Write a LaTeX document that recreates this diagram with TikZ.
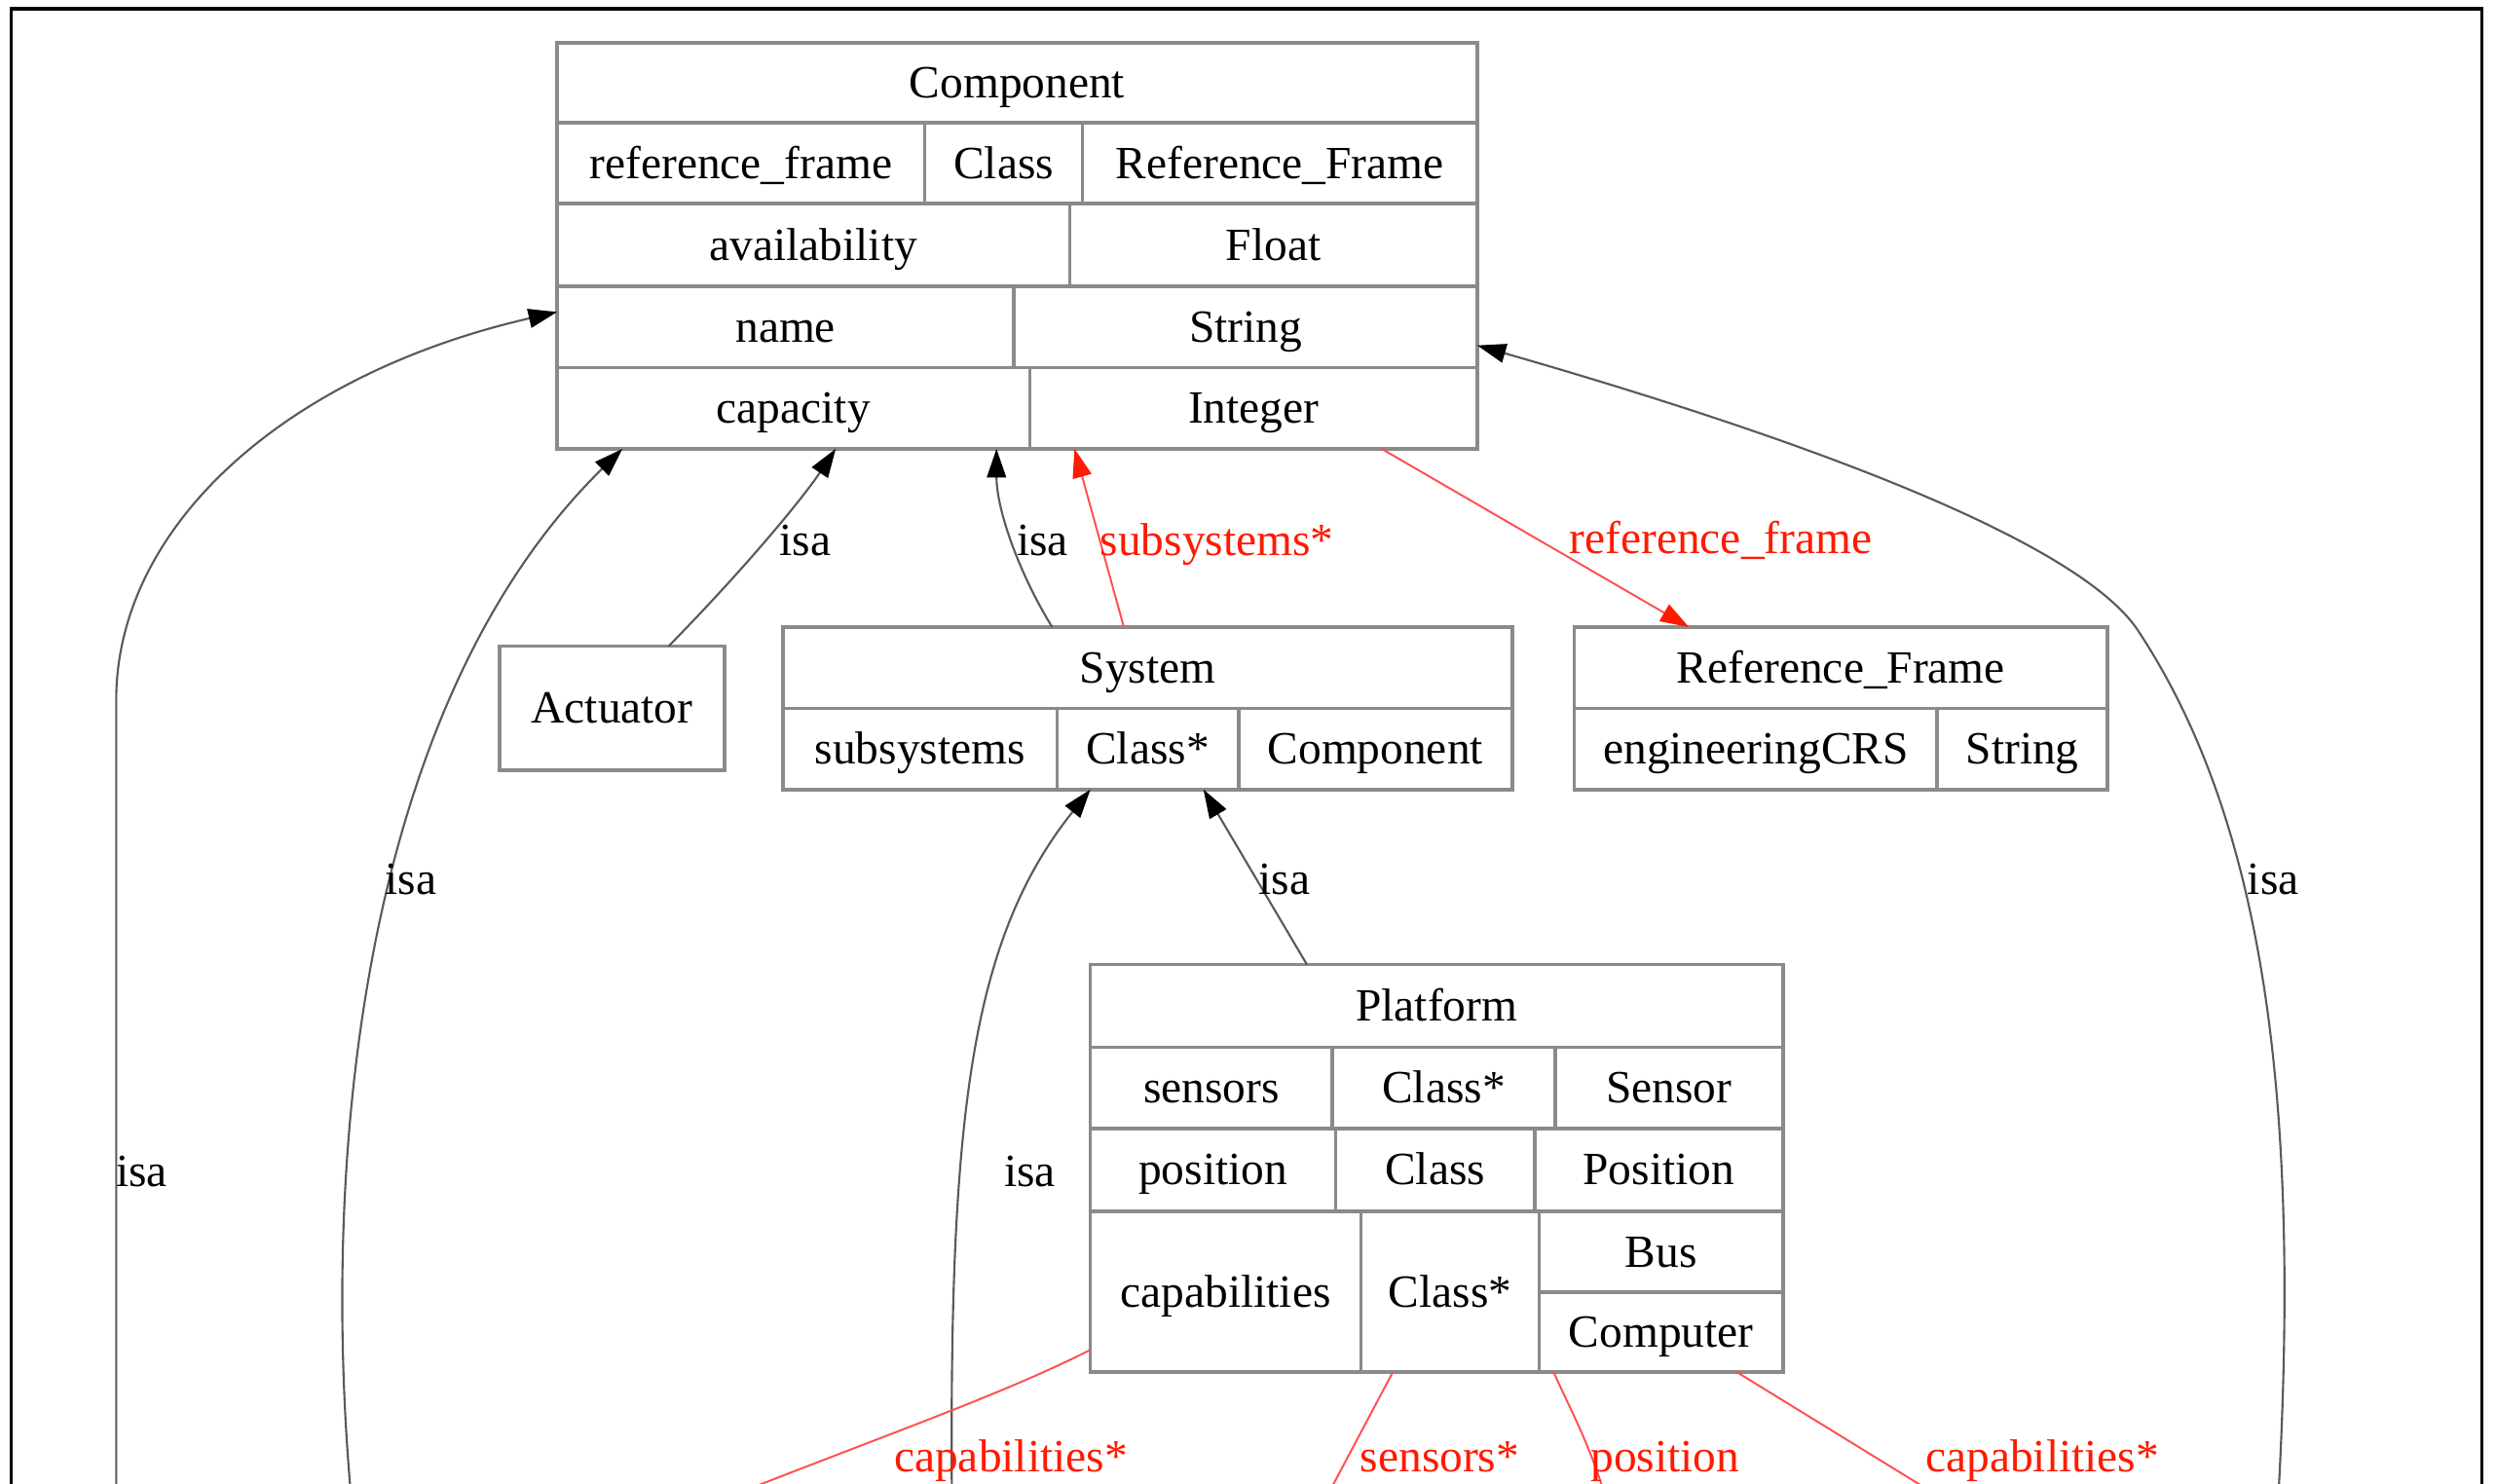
\documentclass[tikz,border=0pt]{standalone}
\usepackage{fontspec}
\setmainfont{Liberation Serif}
\usetikzlibrary{arrows.meta}
\definecolor{tblgray}{HTML}{8A8A8A}
\definecolor{edgegray}{HTML}{5A5A5A}
\definecolor{edgered}{HTML}{FF5050}
\definecolor{lblred}{HTML}{FF1A00}
\newcommand\tcell[6]{\node[cell,minimum width={#4-#2},minimum height={#5-#3}] (#1) at ({(#2+#4)/2},{(#3+#5)/2}) {#6};}
\begin{document}
\begin{tikzpicture}[x=1pt,y=-1pt,
  cell/.style={draw=tblgray, line width=2.2pt, inner sep=0pt, outer sep=0pt,
    text height=19pt, text depth=0pt, font=\fontsize{29}{34}\selectfont},
  tbl/.style={draw=none, inner sep=0pt, outer sep=0pt},
  isaedge/.style={draw=edgegray, line width=1.3pt, -{Triangle[length=18pt,width=12pt,color=black]}},
  rededge/.style={draw=edgered, line width=1.2pt, -{Triangle[length=18pt,width=12pt,color=lblred]}},
  redline/.style={draw=edgered, line width=1.2pt},
  lbl/.style={anchor=base, inner sep=0pt, font=\fontsize{29}{34}\selectfont, text=black},
  redlbl/.style={lbl, text=lblred}]
\useasboundingbox (0,0) rectangle (1568,932);
\clip (0,0) rectangle (1568,932);
\fill[white] (0,0) rectangle (1568,932);
% outer frame
\draw[black, line width=2.2pt] (7,945) -- (7,5.5) -- (1559,5.5) -- (1559,945);

% table outlines (for connector anchors)
\node[tbl, minimum width=578, minimum height=255] (comp) at (639,154.5) {};
\node[tbl, minimum width=141, minimum height=78] (act) at (384.5,445) {};
\node[tbl, minimum width=458, minimum height=102] (sys) at (721,445) {};
\node[tbl, minimum width=335, minimum height=102] (rf) at (1156.5,445) {};
\node[tbl, minimum width=435, minimum height=256] (plat) at (902.5,734) {};

% Component
\tcell{comp-h}{350}{27}{928}{77}{Component}
\tcell{comp-r1a}{350}{77}{581}{128}{reference\_frame}
\tcell{comp-r1b}{581}{77}{680}{128}{Class}
\tcell{comp-r1c}{680}{77}{928}{128}{Reference\_Frame}
\tcell{comp-r2a}{350}{128}{672}{180}{availability}
\tcell{comp-r2b}{672}{128}{928}{180}{Float}
\tcell{comp-r3a}{350}{180}{637}{231}{name}
\tcell{comp-r3b}{637}{180}{928}{231}{String}
\tcell{comp-r4a}{350}{231}{647}{282}{capacity}
\tcell{comp-r4b}{647}{231}{928}{282}{Integer}
% Actuator
\tcell{act-h}{314}{406}{455}{484}{Actuator}
% System
\tcell{sys-h}{492}{394}{950}{445}{System}
\tcell{sys-a}{492}{445}{664}{496}{subsystems}
\tcell{sys-b}{664}{445}{778}{496}{Class*}
\tcell{sys-c}{778}{445}{950}{496}{Component}
% Reference_Frame
\tcell{rf-h}{989}{394}{1324}{445}{Reference\_Frame}
\tcell{rf-a}{989}{445}{1217}{496}{engineeringCRS}
\tcell{rf-b}{1217}{445}{1324}{496}{String}
% Platform
\tcell{plat-h}{685}{606}{1120}{658}{Platform}
\tcell{plat-s1}{685}{658}{837}{709}{sensors}
\tcell{plat-s2}{837}{658}{977}{709}{Class*}
\tcell{plat-s3}{977}{658}{1120}{709}{Sensor}
\tcell{plat-p1}{685}{709}{839}{761}{position}
\tcell{plat-p2}{839}{709}{964}{761}{Class}
\tcell{plat-p3}{964}{709}{1120}{761}{Position}
\tcell{plat-c1}{685}{761}{855}{862}{capabilities}
\tcell{plat-c2}{855}{761}{967}{862}{Class*}
\tcell{plat-c3}{967}{761}{1120}{812}{Bus}
\tcell{plat-c4}{967}{812}{1120}{862}{Computer}

% free ends below the visible area
\coordinate (f1) at (73,945);
\coordinate (f2) at (221,945);
\coordinate (f3) at (598,945);
\coordinate (f4) at (1431,945);
\coordinate (f5) at (446,945);
\coordinate (f6) at (831,945);
\coordinate (f7) at (1010,945);
\coordinate (f8) at (1226,945);

% isa edges
\draw[isaedge] (f1) -- (73,440) .. controls (73,330) and (180,235) .. ([yshift=86pt]comp.south west);
\draw[isaedge] (f2) .. controls (200,720) and (230,440) .. ([xshift=41pt]comp.south west);
\draw[isaedge] ([xshift=106pt]act.north west) .. controls (470,355) and (505,312) .. ([xshift=175pt]comp.south west);
\draw[isaedge] ([xshift=169pt]sys.north west) .. controls (640,360) and (626,320) .. ([xshift=276pt]comp.south west);
\draw[isaedge] (f4) .. controls (1445,700) and (1425,520) .. (1343,396) .. controls (1305,339) and (1130,275) .. ([yshift=65pt]comp.south east);
\draw[isaedge] ([xshift=136pt]plat.north west) -- ([xshift=264pt]sys.south west);
\draw[isaedge] (f3) .. controls (596,700) and (610,590) .. ([xshift=193pt]sys.south west);

% red edges
\draw[rededge] ([xshift=214pt]sys.north west) -- ([xshift=325pt]comp.south west);
\draw[rededge] ([xshift=518pt]comp.south west) -- ([xshift=72pt]rf.north west);
\draw[redline] ([yshift=14pt]plat.south west) .. controls (630,876) and (560,900) .. (f5);
\draw[redline] ([xshift=190pt]plat.south west) -- (f6);
\draw[redline] ([xshift=291pt]plat.south west) .. controls (986,885) and (998,905) .. (f7);
\draw[redline] ([xshift=406pt]plat.south west) -- (f8);

% labels
\node[lbl] (l1) at (89,745.5) {isa};
\node[lbl] (l2) at (258,561.7) {isa};
\node[lbl] (l3) at (506,349) {isa};
\node[lbl] (l4) at (655,349) {isa};
\node[lbl] (l5) at (807,561.7) {isa};
\node[lbl] (l6) at (647,745.5) {isa};
\node[lbl] (l7) at (1428,561.7) {isa};
\node[redlbl] (l8) at (764.5,349) {subsystems*};
\node[redlbl] (l9) at (1081,348) {reference\_frame};
\node[redlbl] (l10) at (635,925) {capabilities*};
\node[redlbl] (l11) at (904.5,925) {sensors*};
\node[redlbl] (l12) at (1046,925) {position};
\node[redlbl] (l13) at (1283,925) {capabilities*};
\end{tikzpicture}
\end{document}
